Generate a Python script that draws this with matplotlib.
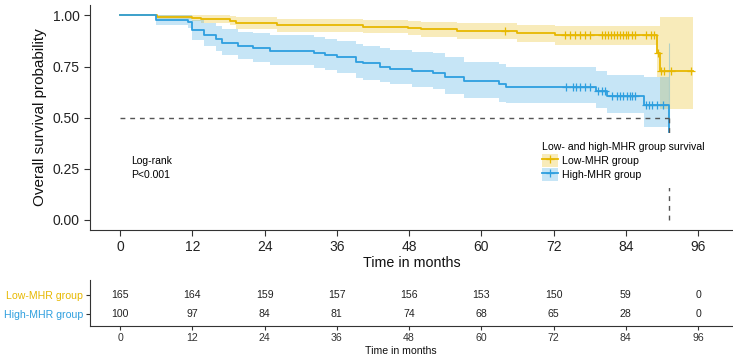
import numpy as np
import matplotlib
matplotlib.use("Agg")
import matplotlib.pyplot as plt
from matplotlib.patches import Patch
from matplotlib.lines import Line2D

plt.rcParams['font.family'] = ['Liberation Sans', 'DejaVu Sans']

# ---------------- data ----------------
low_time = [0, 6.2, 12.0, 13.4, 18.2, 19.3, 26.0, 40.3, 47.8, 50.0, 56.0, 66.0, 72.2, 89.1, 89.6]
low_surv = [1.0, 0.994, 0.988, 0.981, 0.975, 0.964, 0.953, 0.944, 0.941, 0.932, 0.925, 0.915, 0.902, 0.817, 0.728]
low_lo = [1.0, 0.982, 0.971, 0.962, 0.952, 0.936, 0.920, 0.912, 0.905, 0.895, 0.885, 0.871, 0.857, 0.70, 0.541]
low_hi = [1.0, 1.0, 1.0, 1.0, 0.998, 0.99, 0.982, 0.977, 0.975, 0.970, 0.963, 0.953, 0.946, 0.95, 0.99]
low_end = 95.1
low_cens = [63.9, 73.85, 74.7, 75.5, 76.4, 77.2, 78.0, 80.0, 80.6, 81.1, 81.6, 82.1, 82.6, 83.1,
            83.6, 84.1, 84.4, 85.1, 85.6, 87.3, 88.1, 88.6, 89.3, 89.8, 90.3, 91.5, 94.8]

high_time = [0, 5.9, 11.2, 12.0, 14.0, 16.0, 17.0, 19.6, 22.1, 24.9, 32.2, 34.1, 36.1, 39.2, 40.3,
             43.1, 44.8, 48.4, 51.9, 54.0, 57.1, 62.9, 64.1, 79.1, 80.8, 87.0, 91.1]
high_surv = [1.0, 0.98, 0.97, 0.928, 0.904, 0.884, 0.866, 0.85, 0.839, 0.827, 0.817, 0.806, 0.795,
             0.773, 0.765, 0.749, 0.739, 0.729, 0.72, 0.699, 0.679, 0.664, 0.648, 0.632, 0.607, 0.562, 0.43]
high_lo = [1.0, 0.953, 0.937, 0.878, 0.85, 0.827, 0.806, 0.787, 0.773, 0.757, 0.745, 0.733, 0.72,
           0.695, 0.685, 0.676, 0.664, 0.65, 0.638, 0.615, 0.595, 0.578, 0.57, 0.545, 0.523, 0.456, 0.43]
high_hi = [1.0, 1.0, 1.0, 0.978, 0.962, 0.948, 0.935, 0.92, 0.912, 0.904, 0.895, 0.885, 0.876,
           0.858, 0.85, 0.839, 0.832, 0.822, 0.815, 0.795, 0.773, 0.762, 0.749, 0.728, 0.708, 0.70, 0.865]
high_cens = [74.1, 75.2, 75.8, 76.4, 77.2, 78.0, 79.4, 80.0, 80.6, 81.7, 82.5, 83.1, 83.6, 84.2,
             84.7, 85.0, 85.6, 87.3, 87.8, 88.4, 89.2, 90.1]

median_high = 91.1

groups = ["Low-MHR group", "High-MHR group"]
risk_times = [0, 12, 24, 36, 48, 60, 72, 84, 96]
risk_low = [165, 164, 159, 157, 156, 153, 150, 59, 0]
risk_high = [100, 97, 84, 81, 74, 68, 65, 28, 0]

gold = "#E7B800"
blue = "#2E9FDF"

# ---------------- figure ----------------
W, H = 733, 359
fig = plt.figure(figsize=(W / 100, H / 100), dpi=100)

def fx(px):
    return px / W

def fy(py):
    return 1 - py / H

ax = fig.add_axes([fx(90), fy(230), fx(733 - 90), fy(5) - fy(230)])
ax.set_xlim(-5.0, 101.8)
ax.set_ylim(-0.049, 1.051)

def step_val(times, surv, t):
    i = np.searchsorted(times, t, side='right') - 1
    return surv[i]

def draw_group(times, surv, lo, hi, end, cens, color):
    t = np.array(times, float)
    s = np.array(surv, float)
    l = np.array(lo, float)
    h = np.array(hi, float)
    if end is not None:
        te = np.append(t, end)
        se = np.append(s, s[-1])
        le = np.append(l, l[-1])
        he = np.append(h, h[-1])
    else:
        te, se, le, he = t, s, l, h
    ax.fill_between(te, le, he, step='post', color=color, alpha=0.27, lw=0)
    ax.step(te, se, where='post', color=color, lw=1.3, zorder=3)
    cy = [step_val(t, s, c) for c in cens]
    ax.plot(cens, cy, ls='none', marker='+', ms=5.5, mew=0.9, color=color, zorder=4)

draw_group(low_time, low_surv, low_lo, low_hi, low_end, low_cens, gold)
draw_group(high_time, high_surv, high_lo, high_hi, None, high_cens, blue)
ax.vlines(high_time[-1], high_lo[-1], high_hi[-1], color=blue, alpha=0.35, lw=0.8)

ax.hlines(0.5, 0, median_high, colors="#555555", linestyles=(0, (3.5, 3.5)), lw=1.0, zorder=3.5)
ax.vlines(median_high, 0, 0.5, colors="#555555", linestyles=(0, (3.5, 3.5)), lw=1.0, zorder=3.5)

for s in ['top', 'right']:
    ax.spines[s].set_visible(False)
for s in ['left', 'bottom']:
    ax.spines[s].set_color('#333333')
    ax.spines[s].set_linewidth(0.8)
ax.set_xticks(risk_times)
ax.set_yticks([0, 0.25, 0.5, 0.75, 1.0])
ax.set_yticklabels(["0.00", "0.25", "0.50", "0.75", "1.00"])
ax.tick_params(axis='both', labelsize=10, colors='#333333', labelcolor='#222222', length=4, width=0.8)
ax.set_xlabel("Time in months", fontsize=10.3, labelpad=1, color='#111111')
ax.set_ylabel("Overall survival probability", fontsize=11, labelpad=4, color='#111111')

ax.text(fx(131), fy(161), "Log-rank", transform=fig.transFigure, fontsize=7.5, va='center', ha='left')
ax.text(fx(131), fy(175), "P<0.001", transform=fig.transFigure, fontsize=7.5, va='center', ha='left')

handles = [
    (Patch(facecolor=gold, alpha=0.27, lw=0), Line2D([], [], color=gold, lw=1.3, marker='+', ms=5.5, mew=0.9)),
    (Patch(facecolor=blue, alpha=0.27, lw=0), Line2D([], [], color=blue, lw=1.3, marker='+', ms=5.5, mew=0.9)),
]
leg = ax.legend(handles, groups, title="Low- and high-MHR group survival",
                loc='upper left', bbox_to_anchor=(fx(536), fy(136)), bbox_transform=fig.transFigure,
                fontsize=7.6, title_fontsize=7.6, frameon=True, facecolor='white', edgecolor='none',
                framealpha=1.0, handlelength=1.5, handleheight=1.55, handletextpad=0.4,
                labelspacing=0.12, borderpad=0.6, borderaxespad=0, alignment='left')
leg.set_zorder(6)

# ---------------- risk table ----------------
rx = fig.add_axes([fx(90), fy(326), fx(733 - 90), fy(280) - fy(326)])
rx.set_xlim(-5.0, 101.8)
rx.set_ylim(-0.63, 1.79)
for t, n in zip(risk_times, risk_low):
    rx.text(t, 1, str(n), ha='center', va='center', fontsize=7.6, color='#222222')
for t, n in zip(risk_times, risk_high):
    rx.text(t, 0, str(n), ha='center', va='center', fontsize=7.6, color='#222222')
rx.set_yticks([1, 0])
rx.set_yticklabels(groups)
rx.set_xticks(risk_times)
rx.tick_params(axis='both', labelsize=7.6, colors='#333333', length=3, width=0.8, pad=2)
for lab, c in zip(rx.get_yticklabels(), [gold, blue]):
    lab.set_color(c)
for s in ['top', 'right']:
    rx.spines[s].set_visible(False)
for s in ['left', 'bottom']:
    rx.spines[s].set_color('#333333')
    rx.spines[s].set_linewidth(0.8)
fig.text(fx(401), fy(351), "Time in months", ha='center', va='center', fontsize=7.6, color='#111111')

fig.savefig("out.png", dpi=100)
